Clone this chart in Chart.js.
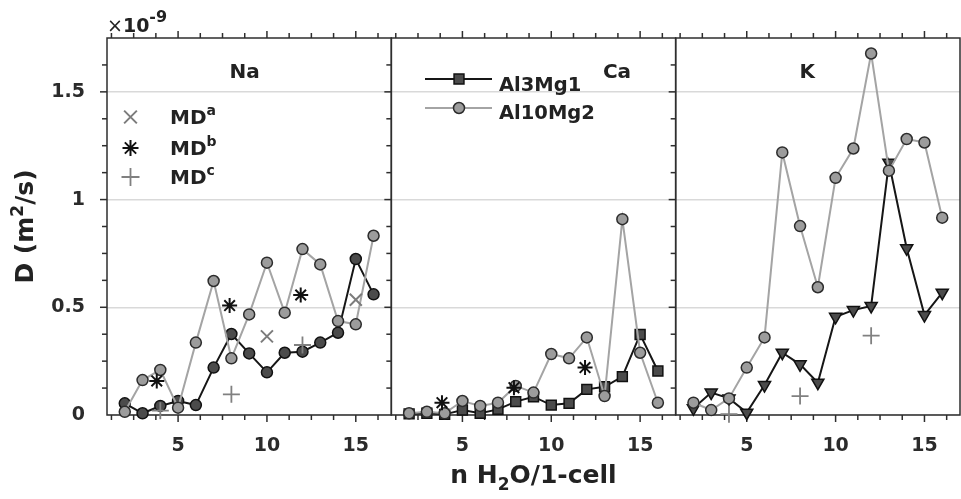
<!DOCTYPE html>
<html>
<head>
<meta charset="utf-8">
<script src="https://cdn.jsdelivr.net/npm/chart.js@4.4.1/dist/chart.umd.min.js"></script>
<style>
  html, body { margin: 0; padding: 0; background: #fff; }
  #wrap { width: 961px; height: 499px; }
</style>
</head>
<body>
<div id="wrap"><canvas id="ch"></canvas></div>
<script>
// ── data (D in units of 1e-9 m^2/s) ───────────────────────────────────────
const nWater = [2, 3, 4, 5, 6, 7, 8, 9, 10, 11, 12, 13, 14, 15, 16];

const naAl3Mg1  = [0.054, 0.008, 0.042, 0.065, 0.046, 0.220, 0.376, 0.286, 0.198, 0.289, 0.294, 0.336, 0.382, 0.724, 0.560];
const naAl10Mg2 = [0.015, 0.162, 0.209, 0.034, 0.336, 0.622, 0.263, 0.467, 0.707, 0.475, 0.770, 0.699, 0.436, 0.421, 0.832];
const caAl3Mg1  = [0.005, 0.008, 0.003, 0.023, 0.008, 0.026, 0.062, 0.085, 0.046, 0.054, 0.119, 0.131, 0.178, 0.374, 0.204];
const caAl10Mg2 = [0.008, 0.015, 0.008, 0.065, 0.042, 0.057, 0.135, 0.104, 0.283, 0.263, 0.360, 0.088, 0.909, 0.289, 0.057];
const kAl3Mg1   = [0.031, 0.104, 0.077, 0.011, 0.139, 0.289, 0.235, 0.150, 0.456, 0.487, 0.506, 1.171, 0.774, 0.464, 0.568];
const kAl10Mg2  = [0.057, 0.023, 0.077, 0.220, 0.360, 1.219, 0.877, 0.593, 1.101, 1.237, 1.678, 1.134, 1.281, 1.265, 0.916];

// literature MD values
const mdaNaX = [10, 15];             const mdaNaY = [0.365, 0.535];
const mdbNaX = [3.8, 7.9, 11.9];     const mdbNaY = [0.158, 0.508, 0.557];
const mdbCaX = [3.85, 7.9, 11.9];    const mdbCaY = [0.057, 0.127, 0.220];
const mdcNaX = [4, 8, 12];           const mdcNaY = [0.020, 0.096, 0.325];
const mdcKX  = [4, 8, 12];           const mdcKY  = [0.004, 0.088, 0.368];

const panelNames = ['Na', 'Ca', 'K'];
const xTicks = [5, 10, 15];
const yTicks = [0, 0.5, 1, 1.5];

// ── styles ────────────────────────────────────────────────────────────────
const FONT = '"DejaVu Sans", "Liberation Sans", sans-serif';
const panelAxes = ['xNa', 'xCa', 'xK'];
const al3Look  = { line: '#161616', fill: '#4b4b4b', edge: '#111111', order: 2 };
const al10Look = { line: '#a4a4a4', fill: '#9c9c9c', edge: '#2c2c2c', order: 1 };

const pts = (xs, ys) => xs.map((x, i) => ({ x, y: ys[i] }));

function series(label, axis, values, look, style, radius, rotation) {
    return {
        label, xAxisID: axis, yAxisID: 'y', showLine: true, order: look.order,
        data: nWater.map((n, i) => ({ x: n, y: values[i] })),
        borderColor: look.line, borderWidth: 2,
        pointStyle: style, pointRadius: radius, pointRotation: rotation || 0,
        pointBackgroundColor: look.fill, pointBorderColor: look.edge, pointBorderWidth: 1.5,
        clip: false,
    };
}

function md(label, axis, data, style, radius, color, width) {
    return {
        label, xAxisID: axis, yAxisID: 'y', showLine: false, order: 0, data,
        pointStyle: style, pointRadius: radius, pointBorderColor: color,
        pointBorderWidth: width, pointBackgroundColor: color, clip: false,
    };
}

const datasets = [
    series('Al3Mg1',  'xNa', naAl3Mg1,  al3Look,  'circle', 5.5),
    series('Al10Mg2', 'xNa', naAl10Mg2, al10Look, 'circle', 5.5),
    series('Al3Mg1',  'xCa', caAl3Mg1,  al3Look,  'rect', 7),
    series('Al10Mg2', 'xCa', caAl10Mg2, al10Look, 'circle', 5.5),
    series('Al3Mg1',  'xK',  kAl3Mg1,   al3Look,  'triangle', 7, 180),
    series('Al10Mg2', 'xK',  kAl10Mg2,  al10Look, 'circle', 5.5),
    md('MDa', 'xNa', pts(mdaNaX, mdaNaY), 'crossRot', 8.5, '#7c7c7c', 2),
    md('MDb', 'xNa', pts(mdbNaX, mdbNaY), 'star', 7.5, '#111111', 2),
    md('MDb', 'xCa', pts(mdbCaX, mdbCaY), 'star', 7.5, '#111111', 2),
    md('MDc', 'xNa', pts(mdcNaX, mdcNaY), 'cross', 8.5, '#808080', 1.8),
    md('MDc', 'xK',  pts(mdcKX, mdcKY),   'cross', 8.5, '#808080', 1.8),
];

// ── helpers ───────────────────────────────────────────────────────────────
function richText(ctx, parts, x, y, align) {
    // parts: [text, size, dy, weight]
    const font = p => `${p[3] || 'bold'} ${p[1]}px ${FONT}`;
    let w = 0;
    parts.forEach(p => { ctx.font = font(p); w += ctx.measureText(p[0]).width; });
    let cx = align === 'center' ? x - w / 2 : x;
    ctx.textAlign = 'left';
    ctx.textBaseline = 'alphabetic';
    parts.forEach(p => {
        ctx.font = font(p);
        ctx.fillText(p[0], cx, y + (p[2] || 0));
        cx += ctx.measureText(p[0]).width;
    });
}

function marker(ctx, style, radius, rotation, x, y, fill, edge, width) {
    ctx.fillStyle = fill;
    ctx.strokeStyle = edge;
    ctx.lineWidth = width;
    Chart.helpers.drawPoint(ctx, { pointStyle: style, radius, rotation, borderWidth: width }, x, y);
}

function tick(ctx, x1, y1, x2, y2) {
    ctx.beginPath(); ctx.moveTo(x1, y1); ctx.lineTo(x2, y2); ctx.stroke();
}

// ── frames, tick marks, texts ─────────────────────────────────────────────
const panelDecor = {
    id: 'panelDecor',
    beforeDatasetsDraw(chart) {
        const { ctx, chartArea: a, scales } = chart;
        const ys = scales.y;
        ctx.save();
        ctx.strokeStyle = '#2e2e2e';
        ctx.lineWidth = 1.5;
        panelAxes.forEach(id => {
            const s = scales[id];
            ctx.strokeRect(s.left, a.top, s.right - s.left, a.bottom - a.top);
            for (let v = 1.25; v < 17; v += 1.25) {
                const px = s.getPixelForValue(v);
                const len = v % 5 === 0 ? 7 : 5;
                tick(ctx, px, a.bottom, px, a.bottom + len);
                tick(ctx, px, a.top, px, a.top - len);
            }
            for (let v = 0.125; v < 1.75; v += 0.125) {
                const py = ys.getPixelForValue(v);
                const len = v % 0.5 === 0 ? 7 : 5;
                tick(ctx, s.left, py, s.left - len, py);
            }
        });
        ctx.restore();
    },
    afterDraw(chart) {
        const { ctx, chartArea: a, scales } = chart;
        ctx.save();
        ctx.fillStyle = '#222';

        // panel titles
        const titleAt = [8.75, 13.7, 8.4];
        panelAxes.forEach((id, i) => {
            richText(ctx, [[panelNames[i], 20]], scales[id].getPixelForValue(titleAt[i]), 78, 'center');
        });

        // exponent
        richText(ctx, [['×', 19, 0, 'normal'], ['10', 19], ['-9', 16, -10]], 107, 32, 'left');

        // axis titles
        richText(ctx, [['n H', 25], ['2', 17, 7], ['O/1-cell', 25]], (a.left + a.right) / 2, 483, 'center');
        ctx.save();
        ctx.translate(33, (a.top + a.bottom) / 2);
        ctx.rotate(-Math.PI / 2);
        richText(ctx, [['D (m', 25], ['2', 17, -10], ['/s)', 25]], 0, 0, 'center');
        ctx.restore();

        // legend: MD markers (Na panel)
        const mdRows = [
            ['a', 'crossRot', 9, '#7c7c7c', 2, 117, 124],
            ['b', 'star', 8, '#111111', 2, 148, 155],
            ['c', 'cross', 9, '#808080', 1.8, 177, 184],
        ];
        mdRows.forEach(r => {
            marker(ctx, r[1], r[2], 0, 130.5, r[5], r[3], r[3], r[4]);
            ctx.fillStyle = '#222';
            richText(ctx, [['MD', 20], [r[0], 14, -9]], 170, r[6], 'left');
        });

        // legend: series (Ca panel)
        const serRows = [
            ['Al3Mg1', al3Look, 'rect', 7, 79, 91],
            ['Al10Mg2', al10Look, 'circle', 5.5, 108, 119],
        ];
        serRows.forEach(r => {
            ctx.strokeStyle = r[1].line;
            ctx.lineWidth = 2;
            tick(ctx, 425, r[4], 492, r[4]);
            marker(ctx, r[2], r[3], 0, 459, r[4], r[1].fill, r[1].edge, 1.5);
            ctx.fillStyle = '#222';
            richText(ctx, [[r[0], 19.5]], 499, r[5], 'left');
        });
        ctx.restore();
    },
};

// ── chart ─────────────────────────────────────────────────────────────────
function xScale() {
    return {
        type: 'linear', position: 'bottom', stack: 'panels', min: 1, max: 17,
        grid: { display: false, drawTicks: false },
        border: { display: false },
        ticks: {
            stepSize: 5, includeBounds: false, padding: 20, maxRotation: 0,
            color: '#2b2b2b', font: { size: 19, weight: 'bold' },
            callback: v => (xTicks.includes(v) ? v : ''),
        },
        afterFit: s => { s.height = 84; s.paddingLeft = 0; s.paddingRight = 0; },
    };
}

Chart.defaults.font.family = FONT;

new Chart(document.getElementById('ch'), {
    type: 'scatter',
    data: { datasets },
    options: {
        responsive: true, maintainAspectRatio: false, animation: false,
        layout: { autoPadding: false, padding: { top: 38, right: 1, bottom: 0, left: 0 } },
        plugins: { legend: { display: false }, tooltip: { enabled: false } },
        scales: {
            xNa: xScale(), xCa: xScale(), xK: xScale(),
            y: {
                type: 'linear', position: 'left', min: 0, max: 1.75,
                grid: { color: '#d9d9d9', lineWidth: 1.5, drawTicks: false },
                border: { display: false },
                ticks: {
                    stepSize: 0.5, includeBounds: false, padding: 22,
                    color: '#2b2b2b', font: { size: 19, weight: 'bold' },
                    callback: v => (yTicks.includes(v) ? v : ''),
                },
                afterFit: s => { s.width = 107; s.paddingTop = 0; s.paddingBottom = 0; },
            },
        },
    },
    plugins: [panelDecor],
});
</script>
</body>
</html>
